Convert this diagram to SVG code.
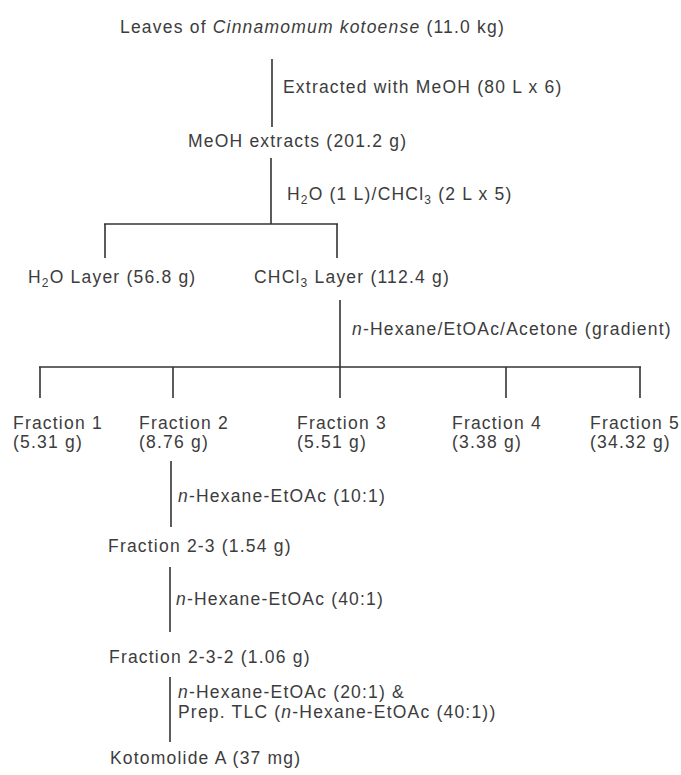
<svg xmlns="http://www.w3.org/2000/svg" width="681" height="775" viewBox="0 0 681 775">
<style>
text{font-family:"Liberation Sans",Arial,sans-serif;font-size:17.5px;fill:#3c3c3c;letter-spacing:1.2px}
.i{font-style:italic}
.sub{font-size:12px}
#connectors line{stroke:#333;stroke-width:1.6}
</style>
<rect width="681" height="775" fill="#fff"/>
<g id="connectors">
<line x1="272" y1="59" x2="272" y2="127"/>
<line x1="271" y1="158" x2="271" y2="224"/>
<line x1="104" y1="224" x2="338" y2="224"/>
<line x1="105" y1="224" x2="105" y2="258"/>
<line x1="337" y1="224" x2="337" y2="258"/>
<line x1="340" y1="300" x2="340" y2="398"/>
<line x1="39" y1="367" x2="641" y2="367"/>
<line x1="40" y1="367" x2="40" y2="398"/>
<line x1="173" y1="367" x2="173" y2="398"/>
<line x1="506" y1="367" x2="506" y2="398"/>
<line x1="640" y1="367" x2="640" y2="398"/>
<line x1="171" y1="461" x2="171" y2="527"/>
<line x1="170" y1="567" x2="170" y2="632"/>
<line x1="170" y1="677" x2="170" y2="742"/>
</g>
<g id="leaves"><text x="120" y="33">Leaves of <tspan class="i">Cinnamomum kotoense</tspan> (11.0 kg)</text></g>
<g id="step1"><text x="283" y="93">Extracted with MeOH (80 L x 6)</text></g>
<g id="meoh"><text x="188" y="147">MeOH extracts (201.2 g)</text></g>
<g id="step2"><text x="287" y="200">H<tspan class="sub" dy="4">2</tspan><tspan dy="-4">O (1 L)/CHCl</tspan><tspan class="sub" dy="4">3</tspan><tspan dy="-4"> (2 L x 5)</tspan></text></g>
<g id="h2o"><text x="28" y="283">H<tspan class="sub" dy="4">2</tspan><tspan dy="-4">O Layer (56.8 g)</tspan></text></g>
<g id="chcl3"><text x="254" y="283">CHCl<tspan class="sub" dy="4">3</tspan><tspan dy="-4"> Layer (112.4 g)</tspan></text></g>
<g id="step3"><text x="352" y="335"><tspan class="i">n</tspan>-Hexane/EtOAc/Acetone (gradient)</text></g>
<g id="fr1"><text x="13" y="429">Fraction 1</text><text x="13" y="448">(5.31 g)</text></g>
<g id="fr2"><text x="139" y="429">Fraction 2</text><text x="139" y="448">(8.76 g)</text></g>
<g id="fr3"><text x="297" y="429">Fraction 3</text><text x="297" y="448">(5.51 g)</text></g>
<g id="fr4"><text x="452" y="429">Fraction 4</text><text x="452" y="448">(3.38 g)</text></g>
<g id="fr5"><text x="590" y="429">Fraction 5</text><text x="590" y="448">(34.32 g)</text></g>
<g id="step4"><text x="178" y="502"><tspan class="i">n</tspan>-Hexane-EtOAc (10:1)</text></g>
<g id="fr23"><text x="108" y="552">Fraction 2-3 (1.54 g)</text></g>
<g id="step5"><text x="176" y="605"><tspan class="i">n</tspan>-Hexane-EtOAc (40:1)</text></g>
<g id="fr232"><text x="109" y="663">Fraction 2-3-2 (1.06 g)</text></g>
<g id="step6"><text x="178" y="698"><tspan class="i">n</tspan>-Hexane-EtOAc (20:1) &amp;</text><text x="178" y="718">Prep. TLC (<tspan class="i">n</tspan>-Hexane-EtOAc (40:1))</text></g>
<g id="kotomolide"><text x="110" y="764">Kotomolide A (37 mg)</text></g>
</svg>
